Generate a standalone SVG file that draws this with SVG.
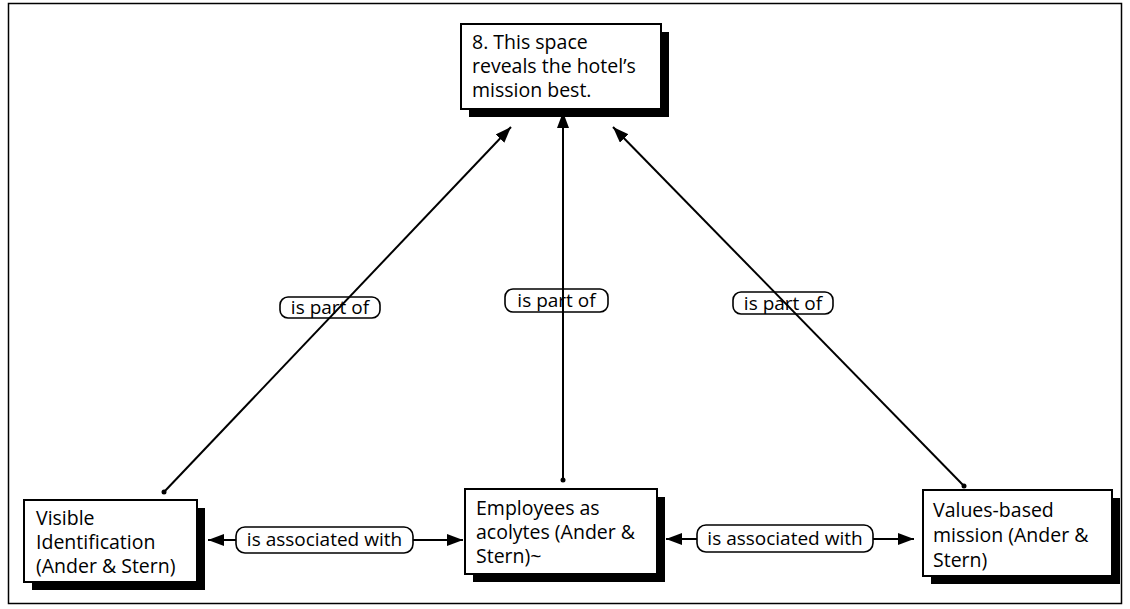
<svg xmlns="http://www.w3.org/2000/svg" width="1130" height="609" viewBox="0 0 1130 609">
  <style>
    .frame { fill: #ffffff; stroke: #000000; stroke-width: 1.5; }
    .shadow { fill: #000000; }
    .box { fill: #ffffff; stroke: #000000; stroke-width: 2; }
    .txt { font-family: "Open Sans", "Noto Sans", sans-serif; font-size: 19.5px; fill: #000000; }
    .lbl { font-family: "Open Sans", "Noto Sans", sans-serif; font-size: 19px; fill: #000000; text-anchor: middle; }
    .pill { fill: none; stroke: #000000; stroke-width: 1.6; }
    .link { stroke: #000000; stroke-width: 2; fill: none; }
    .arrow { marker-end: url(#head); }
  </style>
  <defs>
    <marker id="head" markerUnits="userSpaceOnUse" markerWidth="18" markerHeight="14" refX="16" refY="6" orient="auto">
      <path d="M0,0 L16,6 L0,12 Z" fill="#000000"/>
    </marker>
  </defs>

  <rect class="frame" x="8.5" y="3.5" width="1113" height="600"/>

  <!-- connectors -->
  <g id="connectors">
    <line class="link arrow" x1="164" y1="492" x2="511" y2="127"/>
    <circle cx="164" cy="492" r="2.5"/>
    <line class="link arrow" x1="563" y1="480" x2="563" y2="112"/>
    <circle cx="563" cy="480" r="2.5"/>
    <line class="link arrow" x1="964" y1="486" x2="613" y2="127"/>
    <circle cx="964" cy="486" r="2.5"/>

    <line class="link arrow" x1="236" y1="540" x2="208" y2="540"/>
    <line class="link arrow" x1="413" y1="540" x2="463" y2="540"/>
    <line class="link arrow" x1="697" y1="539" x2="666" y2="539"/>
    <line class="link arrow" x1="873" y1="539" x2="914" y2="539"/>

    <g id="label-part-left">
      <rect class="pill" x="280" y="297" width="100" height="21" rx="8"/>
      <text class="lbl" x="330" y="314">is part of</text>
    </g>
    <g id="label-part-mid">
      <rect class="pill" x="505" y="289" width="103" height="23" rx="8"/>
      <text class="lbl" x="556.5" y="307">is part of</text>
    </g>
    <g id="label-part-right">
      <rect class="pill" x="733" y="292" width="100" height="22" rx="8"/>
      <text class="lbl" x="783" y="310">is part of</text>
    </g>
    <g id="label-assoc-left">
      <rect class="pill" x="236" y="527" width="177" height="26" rx="9"/>
      <text class="lbl" x="324.5" y="546">is associated with</text>
    </g>
    <g id="label-assoc-right">
      <rect class="pill" x="697" y="525" width="176" height="27" rx="9"/>
      <text class="lbl" x="785" y="545">is associated with</text>
    </g>
  </g>

  <g id="node-mission-space">
    <rect class="shadow" x="469" y="32" width="200" height="85"/>
    <rect class="box" x="461" y="24" width="200" height="85"/>
    <text class="txt" x="472" y="49">8. This space</text>
    <text class="txt" x="472" y="73">reveals the hotel’s</text>
    <text class="txt" x="472" y="97">mission best.</text>
  </g>

  <g id="node-visible-id">
    <rect class="shadow" x="32" y="508" width="173" height="82"/>
    <rect class="box" x="24" y="500" width="173" height="82"/>
    <text class="txt" x="36" y="525">Visible</text>
    <text class="txt" x="36" y="549">Identification</text>
    <text class="txt" x="36" y="573">(Ander &amp; Stern)</text>
  </g>

  <g id="node-employees">
    <rect class="shadow" x="473" y="497" width="192" height="85"/>
    <rect class="box" x="465" y="489" width="192" height="85"/>
    <text class="txt" x="476" y="515">Employees as</text>
    <text class="txt" x="476" y="539">acolytes (Ander &amp;</text>
    <text class="txt" x="476" y="563">Stern)~</text>
  </g>

  <g id="node-values">
    <rect class="shadow" x="931" y="498" width="189" height="86"/>
    <rect class="box" x="923" y="490" width="189" height="86"/>
    <text class="txt" x="933" y="517">Values-based</text>
    <text class="txt" x="933" y="542">mission (Ander &amp;</text>
    <text class="txt" x="933" y="567">Stern)</text>
  </g>
</svg>
